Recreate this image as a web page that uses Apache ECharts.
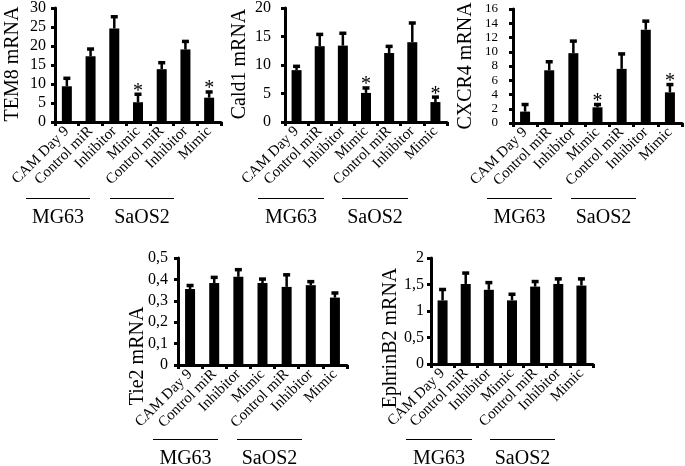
<!DOCTYPE html>
<html>
<head>
<meta charset="utf-8">
<script src="https://cdn.jsdelivr.net/npm/echarts@6/dist/echarts.min.js"></script>
<style>
html,body{margin:0;padding:0;background:#fff;}
#chart{width:685px;height:466px;}
</style>
</head>
<body>
<div id="chart"></div>
<script>
// ---- data ----
var categories = ['CAM Day 9', 'Control miR', 'Inhibitor', 'Mimic', 'Control miR', 'Inhibitor', 'Mimic'];
var tem8Values = [9.4, 17.3, 24.6, 5.2, 13.9, 19.1, 6.4];
var tem8Errors = [2.3, 2.1, 3.3, 2.3, 1.9, 2.3, 1.7];
var cald1Values = [9.1, 13.3, 13.4, 5.1, 12.1, 14.0, 3.5];
var cald1Errors = [0.8, 2.2, 2.3, 1.0, 1.3, 3.5, 1.0];
var cxcr4Values = [1.6, 7.4, 9.8, 2.2, 7.6, 13.1, 4.3];
var cxcr4Errors = [1.1, 1.3, 1.8, 0.5, 2.2, 1.3, 1.2];
var tie2Values = [0.355, 0.383, 0.412, 0.383, 0.365, 0.373, 0.315];
var tie2Errors = [0.02, 0.03, 0.037, 0.022, 0.06, 0.02, 0.025];
var ephrinValues = [1.2, 1.51, 1.4, 1.2, 1.46, 1.51, 1.48];
var ephrinErrors = [0.22, 0.22, 0.15, 0.13, 0.11, 0.11, 0.14];
var significant = [false, false, false, true, false, false, true];
var noneSignificant = [false, false, false, false, false, false, false];
var groupNames = ['MG63', 'SaOS2'];

// ---- panel layout ----
var FONT = '"Liberation Serif", "Times New Roman", serif';
var panels = [
  {name: 'TEM8 mRNA', values: tem8Values, errors: tem8Errors, stars: significant, max: 30, interval: 5,
   grid: {left: 55, top: 6, width: 166, height: 116}, labelMargin: 9, labelSize: 16, nameX: 13, nameY: 64,
   groups: [[26, 90], [110, 174]], groupY: 198},
  {name: 'Cald1 mRNA', values: cald1Values, errors: cald1Errors, stars: significant, max: 20, interval: 5,
   grid: {left: 285, top: 7, width: 162, height: 115}, labelMargin: 14, labelSize: 16, nameX: 240, nameY: 64,
   groups: [[258, 324], [342, 408]], groupY: 198},
  {name: 'CXCR4 mRNA', values: cxcr4Values, errors: cxcr4Errors, stars: significant, max: 16, interval: 2,
   grid: {left: 513, top: 9, width: 169, height: 114}, labelMargin: 15, labelSize: 13, nameX: 466, nameY: 66,
   groups: [[487, 552], [571, 636]], groupY: 198},
  {name: 'Tie2 mRNA', values: tie2Values, errors: tie2Errors, stars: noneSignificant, max: 0.5, interval: 0.1,
   grid: {left: 178, top: 258, width: 169, height: 107}, labelMargin: 10, labelSize: 16, nameX: 138, nameY: 356,
   groups: [[153, 218], [237, 302]], groupY: 439},
  {name: 'EphrinB2 mRNA', values: ephrinValues, errors: ephrinErrors, stars: noneSignificant, max: 2, interval: 0.5,
   grid: {left: 431, top: 258, width: 162, height: 106}, labelMargin: 7, labelSize: 16, nameX: 391, nameY: 338,
   groups: [[406, 472], [490, 555]], groupY: 439}
];

function renderErr(params, api) {
  var x = api.value(0), v = api.value(1), t = api.value(2), s = api.value(3);
  var p0 = api.coord([x, v]);
  var p1 = api.coord([x, t]);
  var children = [
    {type: 'line', shape: {x1: p0[0], y1: p0[1], x2: p1[0], y2: p1[1]}, style: {stroke: '#000', lineWidth: 2.5}},
    {type: 'rect', shape: {x: p1[0] - 3.5, y: p1[1] - 1, width: 7, height: 3.5}, style: {fill: '#000'}}
  ];
  if (s) {
    children.push({type: 'text', style: {text: '*', x: p1[0], y: p1[1] - 2, align: 'center', verticalAlign: 'middle',
      font: '20px ' + FONT, fill: '#000'}});
  }
  return {type: 'group', children: children};
}

var grids = [], xAxes = [], yAxes = [], series = [], graphics = [];
panels.forEach(function (p, i) {
  grids.push(p.grid);
  xAxes.push({
    type: 'category', gridIndex: i, data: categories,
    axisLine: {lineStyle: {color: '#000', width: 3}},
    axisTick: {show: true, alignWithLabel: false, length: 4, lineStyle: {color: '#000', width: 3}},
    axisLabel: {interval: 0, rotate: 45, margin: 7, fontFamily: FONT, fontSize: 15, color: '#000', hideOverlap: false},
    splitLine: {show: false}
  });
  yAxes.push({
    type: 'value', gridIndex: i, min: 0, max: p.max, interval: p.interval,
    axisLine: {show: true, lineStyle: {color: '#000', width: 3}},
    axisTick: {show: true, length: 4, lineStyle: {color: '#000', width: 3}},
    axisLabel: {margin: p.labelMargin, color: '#000',
      showMinLabel: true, showMaxLabel: true, hideOverlap: false,
      fontFamily: FONT, fontSize: p.labelSize,
      formatter: function (v) { return String(Math.round(v * 100) / 100).replace('.', ','); }},
    splitLine: {show: false}
  });
  series.push({
    type: 'bar', xAxisIndex: i, yAxisIndex: i, data: p.values, barWidth: 10,
    itemStyle: {color: '#000'}, silent: true
  });
  series.push({
    type: 'custom', xAxisIndex: i, yAxisIndex: i, renderItem: renderErr, silent: true,
    encode: {x: 0, y: 1},
    data: p.values.map(function (v, k) {
      return [k, v, Math.round((v + p.errors[k]) * 1000) / 1000, p.stars[k] ? 1 : 0];
    }),
    z: 3
  });
  graphics.push({
    type: 'text', x: p.nameX, y: p.nameY, rotation: Math.PI / 2,
    style: {text: p.name, font: '20px ' + FONT, fill: '#000', align: 'center', verticalAlign: 'middle'}
  });
  p.groups.forEach(function (g, k) {
    graphics.push({type: 'line', shape: {x1: g[0], y1: p.groupY + 0.5, x2: g[1], y2: p.groupY + 0.5},
      style: {stroke: '#000', lineWidth: 1}});
    graphics.push({type: 'text', x: (g[0] + g[1]) / 2, y: p.groupY + 20,
      style: {text: groupNames[k], font: '20px ' + FONT, fill: '#000', align: 'center', verticalAlign: 'middle'}});
  });
});

var chart = echarts.init(document.getElementById('chart'), null, {renderer: 'canvas'});
chart.setOption({
  animation: false,
  backgroundColor: '#fff',
  grid: grids,
  xAxis: xAxes,
  yAxis: yAxes,
  series: series,
  graphic: graphics
});
</script>
</body>
</html>
